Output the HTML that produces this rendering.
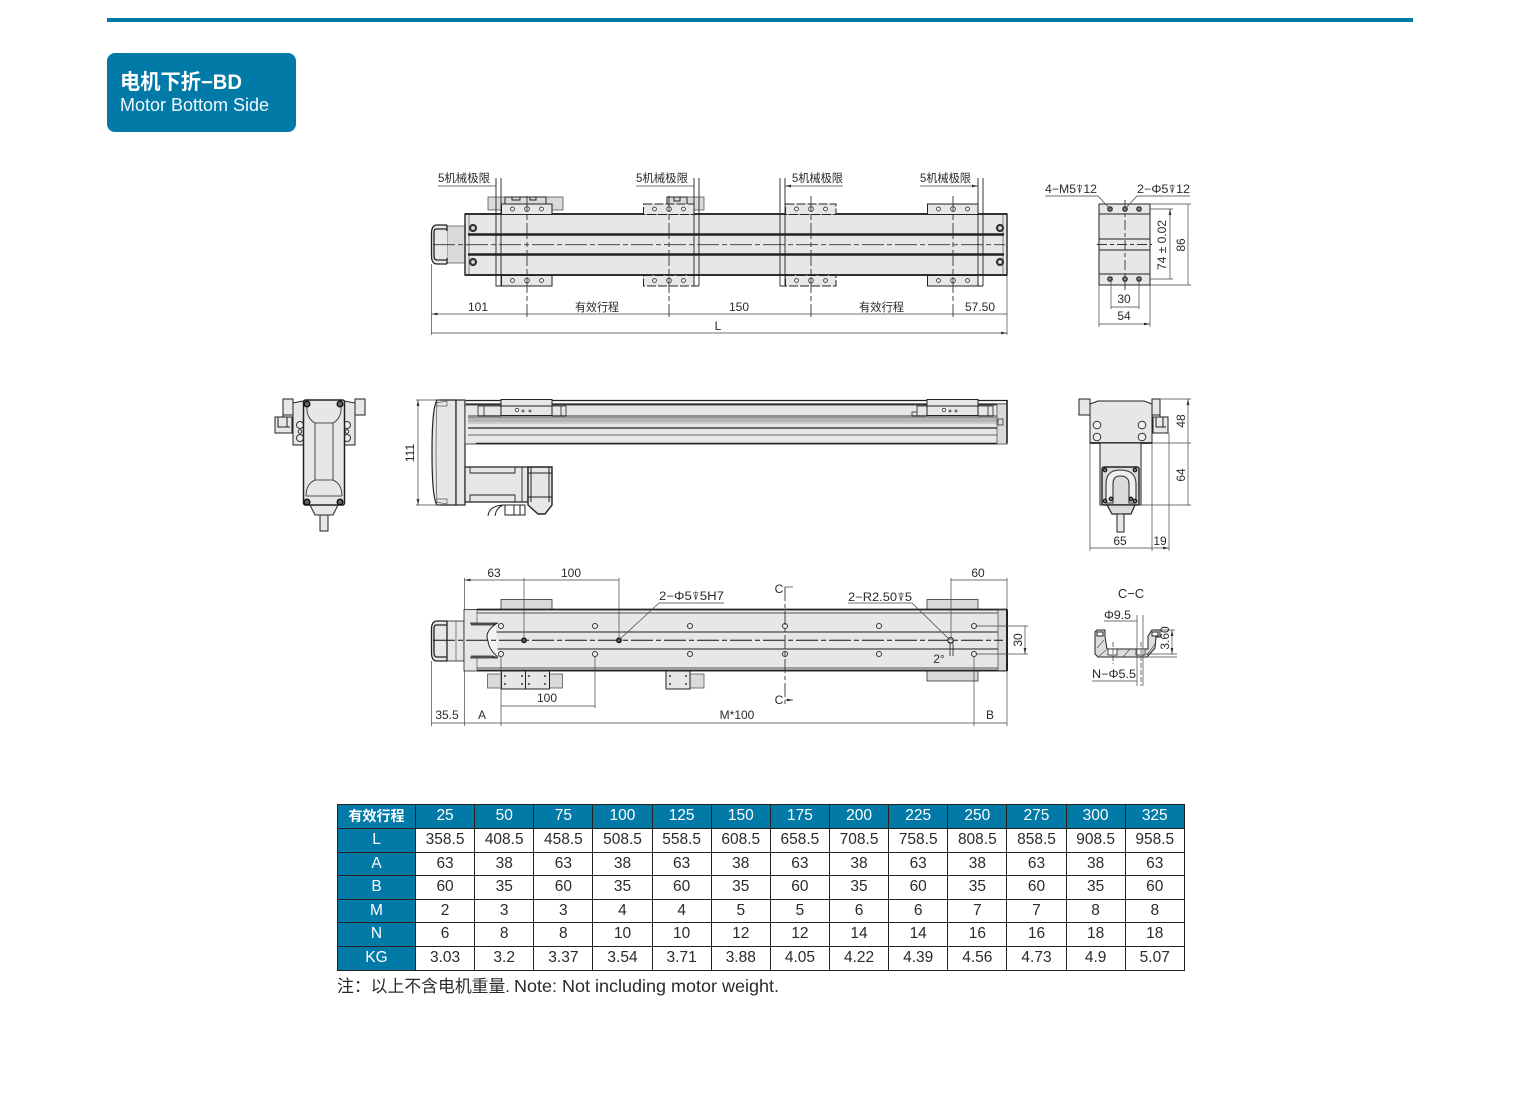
<!DOCTYPE html>
<html lang="zh"><head><meta charset="utf-8"><title>电机下折-BD Motor Bottom Side</title>
<style>
html,body{margin:0;padding:0;background:#fff;width:1514px;height:1118px;overflow:hidden}
svg{position:absolute;left:0;top:0}
text{font-family:"Liberation Sans","Noto Sans CJK SC",sans-serif;fill:#2a2a2a}
.t{font-size:12px;text-anchor:middle}
.s{font-size:11.5px}
.f{fill:#e6e7e8;stroke:#222;stroke-width:1}
.g{fill:#d9dadb;stroke:#555;stroke-width:.8}
.l{fill:none;stroke:#222;stroke-width:1}
.h{fill:none;stroke:#555;stroke-width:.7}
.b{fill:none;stroke:#222;stroke-width:2.6}
.d{fill:none;stroke:#444;stroke-width:.7;marker-start:url(#a);marker-end:url(#a)}
.e{fill:none;stroke:#444;stroke-width:.7}
.r{fill:none;stroke:#444;stroke-width:.7;marker-end:url(#a)}
.c{fill:none;stroke:#333;stroke-width:.9;stroke-dasharray:22 3 5 3}
.o{fill:#eee;stroke:#333;stroke-width:1}
table{position:absolute;left:337px;top:804px;width:847px;border-collapse:collapse;table-layout:fixed;font:15.5px "Liberation Sans","Noto Sans CJK SC",sans-serif;color:#2a2a2a}
td{border:1px solid #222;padding:0 0 1px 0;text-align:center;vertical-align:middle;line-height:18px}
td.k{background:#027aa8;color:#fff}
.badge{position:absolute;left:107px;top:53px;width:189px;height:79px;border-radius:8px;background:#027aa8}
.bar{position:absolute;left:107px;top:18px;width:1306px;height:4px;background:#027aa8}
</style></head><body>
<div class="bar"></div><div class="badge"></div>
<svg width="1514" height="1118" viewBox="0 0 1514 1118" xmlns="http://www.w3.org/2000/svg">
<defs>
<marker id="a" markerUnits="userSpaceOnUse" markerWidth="7" markerHeight="4" refX="6" refY="2" orient="auto-start-reverse"><path d="M0,.6 L6,2 L0,3.400z" fill="#333"/></marker>
<g id="pl"><rect x="0" y="0" width="50.500" height="10.500" class="f"/><circle cx="11" cy="5" r="1.900" fill="#fff" stroke="#333" stroke-width=".9"/><circle cx="25.500" cy="5" r="2.300" fill="#fff" stroke="#333" stroke-width=".9"/><circle cx="40" cy="5" r="1.900" fill="#fff" stroke="#333" stroke-width=".9"/></g>
<g id="pd"><rect x="0" y="0" width="50.500" height="10.500" class="f" style="stroke-dasharray:9 2"/><circle cx="11" cy="5" r="1.900" fill="#fff" stroke="#333" stroke-width=".9"/><circle cx="25.500" cy="5" r="2.300" fill="#fff" stroke="#333" stroke-width=".9"/><circle cx="40" cy="5" r="1.900" fill="#fff" stroke="#333" stroke-width=".9"/></g>
</defs>

<text x="120" y="89" font-size="21" font-weight="700" style="fill:#fff" textLength="122" lengthAdjust="spacingAndGlyphs">电机下折−BD</text>
<text x="120" y="111" font-size="18" style="fill:#f2f8fb" textLength="149" lengthAdjust="spacingAndGlyphs">Motor Bottom Side</text>

<!-- TOP VIEW -->
<rect x="488" y="197" width="75" height="13" class="g"/>
<rect x="667" y="197" width="37" height="13" class="g"/>
<path d="M505,204V197H546V204M512,197V200H520V197M530,197V200H536V197" class="l"/>
<path d="M667,204V197H687V204M674,197V201H680V197" class="l"/>
<path d="M447,226H465V263H447z" class="g"/>
<path d="M447,225H437Q432,225 431.500,232V257Q432,264 437,264H447M436,229Q434,229 434,233V256Q434,260 437,260H447M447,229H436M447,225V231M447,258V264" class="f" style="stroke-width:1.300"/>
<rect x="465" y="214" width="542" height="61" class="f" style="stroke-width:1.400"/>
<path d="M465,214H1007M465,275H1007" class="l" style="stroke-width:1.700"/>
<path d="M469,214V275M1003,214V275" class="h"/>
<path d="M468,234.500H1004M468,254.500H1004" class="b"/>
<path d="M433,244.700H1005" class="c"/>
<use href="#pl" x="501.500" y="204"/><use href="#pd" x="643.500" y="204"/><use href="#pd" x="785.500" y="204"/><use href="#pl" x="927.500" y="204"/>
<use href="#pl" x="501.500" y="275.500"/><use href="#pd" x="643.500" y="275.500"/><use href="#pd" x="785.500" y="275.500"/><use href="#pl" x="927.500" y="275.500"/>
<path d="M496,178V286H501M501,178V286M694,178V286H699M699,178V286M780,178V286H785M785,178V286M978,178V286H983M983,178V286" class="l" style="stroke-width:.9"/>
<path d="M527,196V317M669,196V317M811,196V317M953,196V317" fill="none" stroke="#333" stroke-width=".9" stroke-dasharray="16 3 5 3"/>
<g class="o" style="stroke-width:2.200;fill:#ddd"><circle cx="473" cy="228" r="3"/><circle cx="473" cy="262" r="3"/><circle cx="1000" cy="228" r="3"/><circle cx="1000" cy="262" r="3"/></g>
<text class="s" x="438" y="182" textLength="52" lengthAdjust="spacingAndGlyphs">5机械极限</text>
<text class="s" x="636" y="182" textLength="52" lengthAdjust="spacingAndGlyphs">5机械极限</text>
<text class="s" x="792" y="182" textLength="51" lengthAdjust="spacingAndGlyphs">5机械极限</text>
<text class="s" x="920" y="182" textLength="51" lengthAdjust="spacingAndGlyphs">5机械极限</text>
<path d="M438,186H496M636,186H694M920,186H978" class="r"/>
<path d="M843,186H785" class="r"/>
<path d="M431.500,264V335M1007,275V335" class="e"/>
<path d="M431.500,314H527M527,314H669M669,314H811M811,314H953M953,314H1007M431.500,333H1007" class="d"/>
<text class="t" x="478" y="311">101</text><text class="s" x="575" y="311" textLength="44" lengthAdjust="spacingAndGlyphs">有效行程</text><text class="t" x="739" y="311">150</text><text class="s" x="859" y="311" textLength="45" lengthAdjust="spacingAndGlyphs">有效行程</text><text class="t" x="980" y="311">57.50</text><text class="t" x="718" y="330">L</text>

<!-- TOP RIGHT END VIEW -->
<rect x="1099" y="204" width="51" height="81" class="f"/>
<path d="M1099,214H1150M1099,274H1150M1099,239H1150M1099,250H1150" class="l"/>
<path d="M1097,244.500H1152M1125,200V290" class="c" style="stroke-dasharray:10 3 4 3"/>
<g fill="#888" stroke="#222" stroke-width="1.200"><circle cx="1110" cy="209" r="2.200"/><circle cx="1125" cy="209" r="2.200"/><circle cx="1139" cy="209" r="2.200"/><circle cx="1110" cy="279" r="2.200"/><circle cx="1125" cy="279" r="2.200"/><circle cx="1139" cy="279" r="2.200"/></g>
<path d="M1045,196H1098L1110,209M1190,196H1137L1125,209" class="e"/>
<text class="s" x="1045" y="193" textLength="52" lengthAdjust="spacingAndGlyphs">4−M5⍒12</text>
<text class="s" x="1137" y="193" textLength="53" lengthAdjust="spacingAndGlyphs">2−Φ5⍒12</text>
<path d="M1150,209H1173M1150,279H1173M1150,204H1191M1150,285H1191M1111,279V309M1139,279V309M1099,285V327M1150,285V327" class="e"/>
<path d="M1170,209V279M1188,204V285M1111,307H1139M1099,324H1150" class="d"/>
<text class="t" x="1124" y="303">30</text><text class="t" x="1124" y="320">54</text>
<text class="t" transform="translate(1166,245) rotate(-90)">74 ± 0.02</text>
<text class="t" transform="translate(1185,245) rotate(-90)">86</text>

<!-- LEFT END VIEW -->
<rect x="283" y="399" width="10" height="16" class="f"/><rect x="355" y="399" width="10" height="16" class="f"/>
<path d="M275,417H292V433H275z" class="f"/><path d="M278,417V427H290M283,410V417M287,417V427" class="l"/>
<path d="M293,403L303,401H344L355,403V445H293z" class="f"/>
<circle cx="300" cy="425" r="3.500" class="o"/><circle cx="300" cy="438" r="3.500" class="o"/><circle cx="300" cy="431.500" r="1.800" class="o"/>
<circle cx="347" cy="425" r="3.500" class="o"/><circle cx="347" cy="438" r="3.500" class="o"/><circle cx="347" cy="431.500" r="1.800" class="o"/>
<path d="M310,505L315,515H333L338,505z" class="f"/>
<rect x="320" y="515" width="8" height="16" class="f"/>
<rect x="303.500" y="400" width="41" height="105" rx="2" class="f" style="stroke-width:1.500"/>
<path d="M307,412Q309,420 315,423V480Q306,484 306,496M341,412Q339,420 333,423V480Q342,484 342,496M315,423H333M315,480H333M307,402L307,412M341,402V412M306,496H342" class="l" style="stroke-width:.8"/>
<g fill="#666" stroke="#111" stroke-width="1.400"><circle cx="307" cy="404" r="2.800"/><circle cx="340" cy="404" r="2.800"/><circle cx="307" cy="502" r="2.800"/><circle cx="340" cy="502" r="2.800"/></g>

<!-- SIDE VIEW -->
<path d="M437,400H456V505H437Q432,498 432,452Q432,408 437,400z" class="f" style="stroke-width:1.200"/>
<path d="M436,403L447,401V406H436M436,502L447,504V499H436M437,402Q435,450 437,503" class="h"/>
<rect x="456" y="400" width="9" height="105" class="f" style="stroke-width:1.200"/>
<rect x="465" y="405" width="533" height="39" class="f" style="stroke-width:.8"/>
<path d="M466,400.500H1007M466,404H1007" class="b" style="stroke-width:1.300"/>
<rect x="468" y="415" width="530" height="3" fill="#8f9193"/>
<rect x="468" y="418" width="530" height="4" fill="#b3b5b7"/>
<rect x="468" y="422" width="530" height="2" fill="#ccc"/>
<path d="M468,428H998" class="l" style="stroke-width:1.400;stroke:#444"/>
<path d="M468,435H998" class="l" style="stroke:#666"/>
<path d="M476,443.500H1007" class="l" style="stroke-width:1.600"/>
<rect x="501" y="399.500" width="51" height="16" class="f"/><rect x="927" y="399.500" width="51" height="16" class="f"/>
<path d="M501,406H552M927,406H978" class="l"/>
<path d="M552,406H566V416H552M561,406V416M978,406H993V416H978M988,406V416M927,406H917V416H927M917,412H912V416H917M501,406H478V416H501M484,406V416" class="l" style="stroke-width:.8"/>
<g fill="#fff" stroke="#333" stroke-width=".8"><circle cx="944" cy="410" r="1.700"/><circle cx="950" cy="411" r="1"/><circle cx="956" cy="411" r="1"/><circle cx="517" cy="410" r="1.700"/><circle cx="523" cy="411" r="1"/><circle cx="530" cy="411" r="1"/></g>
<rect x="997" y="404" width="10" height="40" class="g"/>
<path d="M1007,400V443.500" class="l" style="stroke-width:1.600"/><rect x="998" y="419" width="5" height="6" class="l" style="stroke-width:.7"/>
<path d="M465,467H528V502H465z" class="f" style="stroke-width:1.200"/>
<path d="M470,467V473H515V467M470,502V495H515V502M522,467V502" class="l" style="stroke-width:.9"/>
<path d="M528,467H552V505L545,514H538L528,505z" class="f" style="stroke-width:1.400"/>
<path d="M528,473H552M528,497H552M531,467V502M549,467V502" class="l"/>
<path d="M488,516Q489,506 503,505H525V515H505V505M503,505Q496,508 495,516M514,505V515M520,505V515" class="l" style="stroke-width:1"/>
<path d="M416,400H440M416,505H440" class="e"/>
<path d="M418,400V505" class="d"/>
<text class="t" transform="translate(414,453) rotate(-90)">111</text>

<!-- RIGHT END VIEW -->
<rect x="1079" y="399" width="11" height="16" class="f"/><rect x="1152" y="399" width="8" height="16" class="f"/>
<path d="M1153,417H1168V433H1153z" class="f"/><path d="M1156,417V427H1166M1160,410V417M1163,417V427" class="l"/>
<path d="M1090,404L1098,401H1144L1152,404V443H1090z" class="f"/>
<path d="M1090,443H1152" class="l" style="stroke-width:1.800"/>
<circle cx="1097" cy="425" r="3.800" class="o"/><circle cx="1097" cy="437" r="3.800" class="o"/><circle cx="1142" cy="425" r="3.800" class="o"/><circle cx="1142" cy="437" r="3.800" class="o"/>
<path d="M1100,443H1141V505H1100z" class="f"/>
<rect x="1102" y="467" width="37" height="38" rx="2" class="g" style="stroke:#222;stroke-width:1.400"/>
<path d="M1106,503V484Q1106,470 1120,470Q1136,470 1136,484V503H1129V484Q1129,476 1120,476Q1113,476 1113,484V503z" fill="#eee" stroke="#333" stroke-width="1.100"/>
<g fill="#777" stroke="#111" stroke-width="1.100"><circle cx="1105" cy="470" r="1.800"/><circle cx="1135" cy="470" r="1.800"/><circle cx="1105" cy="501" r="1.800"/><circle cx="1135" cy="501" r="1.800"/><circle cx="1111" cy="499" r="1.800"/><circle cx="1131" cy="499" r="1.800"/></g>
<path d="M1107,505L1112,514H1131L1135,505z" class="g" style="stroke:#222;stroke-width:1.200"/>
<rect x="1117" y="514" width="7" height="18" class="f"/>
<path d="M1160,399H1191M1152,443H1191M1141,505H1191M1090,443V551M1152,443V551M1169,433V551" class="e"/>
<path d="M1188,399V443M1188,443V505M1090,548H1152M1152,548H1169" class="d"/>
<text class="t" transform="translate(1185,421) rotate(-90)">48</text>
<text class="t" transform="translate(1185,475) rotate(-90)">64</text>
<text class="t" x="1120" y="545">65</text><text class="t" x="1160" y="545">19</text>

<!-- BOTTOM VIEW -->
<rect x="501" y="599.500" width="51" height="10" class="g" style="stroke:#333"/>
<rect x="927" y="599.500" width="51" height="10" class="g" style="stroke:#333"/>
<rect x="927" y="671" width="51" height="10" class="g" style="stroke:#333"/>
<rect x="487.500" y="674" width="75" height="14" class="g"/>
<rect x="666" y="674" width="38" height="14" class="g"/>
<rect x="501.500" y="671" width="24" height="18" class="f"/><rect x="525.500" y="671" width="24" height="18" class="f"/><rect x="666" y="671" width="24" height="18" class="f"/>
<g fill="#555"><circle cx="505" cy="676" r="1.100"/><circle cx="522" cy="676" r="1.100"/><circle cx="505" cy="684" r="1.100"/><circle cx="522" cy="684" r="1.100"/><circle cx="529" cy="676" r="1.100"/><circle cx="545" cy="676" r="1.100"/><circle cx="529" cy="684" r="1.100"/><circle cx="545" cy="684" r="1.100"/><circle cx="670" cy="676" r="1.100"/><circle cx="686" cy="676" r="1.100"/><circle cx="670" cy="684" r="1.100"/><circle cx="686" cy="684" r="1.100"/></g>
<rect x="447" y="621" width="17" height="40" class="f" style="stroke-width:.8"/>
<path d="M447,621H437Q432,621 431.500,628V654Q432,661 437,661H447V621M436,625Q434,625 434,629V653Q434,657 437,657H447M447,625H436" class="f" style="stroke-width:1.300"/>
<path d="M456,621V661" class="h"/>
<rect x="464" y="609.500" width="543" height="61.500" class="f" style="stroke-width:.8"/>
<path d="M477,609.500H1007M477,670.500H1007" class="l" style="stroke-width:1.700"/>
<path d="M477,613H998M477,668H998" class="l" style="stroke:#555"/>
<path d="M492,632H998M492,649H998" class="l" style="stroke-width:1.100"/>
<path d="M477,610V623M477,658V670" class="h"/>
<rect x="998" y="610" width="9" height="60.500" class="g"/><path d="M1007,609.500V671" class="l" style="stroke-width:2"/>
<path d="M470,623H498L493,625H471M470,658H498L493,656H471" fill="#666" stroke="#222" stroke-width=".8"/>
<path d="M496,624Q484,632 488,641Q489,650 498,657" fill="#f4f4f4" stroke="#222" stroke-width="1"/>
<path d="M433,640.300H1003" class="c" style="stroke:#111;stroke-width:1"/>
<g fill="#eee" stroke="#333" stroke-width="1">
<circle cx="501" cy="626" r="2.500"/><circle cx="595" cy="626" r="2.500"/><circle cx="690" cy="626" r="2.500"/><circle cx="785" cy="626" r="2.500"/><circle cx="879" cy="626" r="2.500"/><circle cx="974" cy="626" r="2.500"/>
<circle cx="501" cy="654" r="2.500"/><circle cx="595" cy="654" r="2.500"/><circle cx="690" cy="654" r="2.500"/><circle cx="785" cy="654" r="2.500"/><circle cx="879" cy="654" r="2.500"/><circle cx="974" cy="654" r="2.500"/></g>
<g fill="#666" stroke="#111" stroke-width="1.400"><circle cx="524" cy="640.300" r="2.200"/><circle cx="619" cy="640.300" r="2.200"/></g>
<circle cx="950.500" cy="640.300" r="2.800" fill="#ddd" stroke="#111" stroke-width="1"/>
<path d="M464.500,578V609M524,578V640M619,578V640M951,578V640M1007,578V609M431.500,661V726M464.500,671V726M501,657V726M595,657V708M974,657V726M1007,671V726M977,626H1028M977,654H1028" class="e"/>
<path d="M950,642V656M953,642V656" class="l" style="stroke-width:.8"/>
<path d="M464.500,580H524M524,580H619M951,580H1007M501,706H595M431.500,723H464.500M464.500,723H501M501,723H974M974,723H1007M1025,626V654" class="d"/>
<path d="M785,587V705" fill="none" stroke="#333" stroke-width=".9" stroke-dasharray="14 3 4 3"/>
<path d="M785,587H793M785,700H793" class="r"/>
<path d="M659,603H724M659,603L619,640M848,603H912L950,640" class="e"/>
<text class="t" x="494" y="577">63</text><text class="t" x="571" y="577">100</text><text class="t" x="978" y="577">60</text>
<text class="s" x="659" y="600" textLength="65" lengthAdjust="spacingAndGlyphs">2−Φ5⍒5H7</text>
<text class="s" x="848" y="601" textLength="64" lengthAdjust="spacingAndGlyphs">2−R2.50⍒5</text>
<text class="t" x="779" y="593">C</text><text class="t" x="779" y="704">C</text>
<text class="t" x="939" y="663">2°</text>
<text class="t" x="547" y="702">100</text>
<text class="t" x="447" y="719">35.5</text><text class="t" x="482" y="719">A</text><text class="t" x="737" y="719">M*100</text><text class="t" x="990" y="719">B</text>
<text class="t" transform="translate(1022,640) rotate(-90)">30</text>

<!-- C-C -->
<text x="1131" y="598" font-size="13" text-anchor="middle">C−C</text>
<path d="M1095,632L1097,630H1105V637L1107,649H1148V636L1152,630H1160V637H1156L1155,648L1147,657H1098L1095,654z" fill="#dcddde" stroke="#222" stroke-width="1"/>
<path d="M1097,648L1104,640M1099,656L1106,650M1123,657L1130,649M1147,655L1155,644" class="h"/>
<path d="M1097,632H1103V636H1097zM1152,632H1158V636H1152z" fill="#fff" stroke="#222" stroke-width="1"/>
<rect x="1108" y="649" width="9" height="6" fill="#fff" stroke="#222" stroke-width=".8"/><rect x="1136" y="649" width="9" height="6" fill="#fff" stroke="#222" stroke-width=".8"/>
<path d="M1113,642V664M1141,642V686" fill="none" stroke="#333" stroke-width=".7" stroke-dasharray="5 2"/>
<path d="M1137,615V686M1143,615V686M1146,654H1177M1146,657H1177M1160,630H1175" class="e"/>
<path d="M1104,621H1137M1092,681H1137" class="e"/>
<path d="M1172,630V654" class="d"/>
<text class="s" x="1104" y="619" textLength="27" lengthAdjust="spacingAndGlyphs">Φ9.5</text>
<text class="s" x="1092" y="678" textLength="44" lengthAdjust="spacingAndGlyphs">N−Φ5.5</text>
<text class="t" transform="translate(1169,638) rotate(-90)">3.60</text>

<text x="337" y="992" font-size="17" textLength="173" lengthAdjust="spacingAndGlyphs">注：以上不含电机重量.</text>
<text x="514" y="992" font-size="17.500" textLength="265" lengthAdjust="spacingAndGlyphs">Note: Not including motor weight.</text>
</svg>
<table>
<colgroup><col style="width:78px"><col span="13" style="width:59.150px"></colgroup>
<tr style="height:24px"><td class="k" style="font-weight:700;font-size:14px">有效行程</td><td class="k">25</td><td class="k">50</td><td class="k">75</td><td class="k">100</td><td class="k">125</td><td class="k">150</td><td class="k">175</td><td class="k">200</td><td class="k">225</td><td class="k">250</td><td class="k">275</td><td class="k">300</td><td class="k">325</td></tr>
<tr style="height:24px"><td class="k">L</td><td>358.5</td><td>408.5</td><td>458.5</td><td>508.5</td><td>558.5</td><td>608.5</td><td>658.5</td><td>708.5</td><td>758.5</td><td>808.5</td><td>858.5</td><td>908.5</td><td>958.5</td></tr>
<tr style="height:23px"><td class="k">A</td><td>63</td><td>38</td><td>63</td><td>38</td><td>63</td><td>38</td><td>63</td><td>38</td><td>63</td><td>38</td><td>63</td><td>38</td><td>63</td></tr>
<tr style="height:24px"><td class="k">B</td><td>60</td><td>35</td><td>60</td><td>35</td><td>60</td><td>35</td><td>60</td><td>35</td><td>60</td><td>35</td><td>60</td><td>35</td><td>60</td></tr>
<tr style="height:23px"><td class="k">M</td><td>2</td><td>3</td><td>3</td><td>4</td><td>4</td><td>5</td><td>5</td><td>6</td><td>6</td><td>7</td><td>7</td><td>8</td><td>8</td></tr>
<tr style="height:24px"><td class="k">N</td><td>6</td><td>8</td><td>8</td><td>10</td><td>10</td><td>12</td><td>12</td><td>14</td><td>14</td><td>16</td><td>16</td><td>18</td><td>18</td></tr>
<tr style="height:24px"><td class="k">KG</td><td>3.03</td><td>3.2</td><td>3.37</td><td>3.54</td><td>3.71</td><td>3.88</td><td>4.05</td><td>4.22</td><td>4.39</td><td>4.56</td><td>4.73</td><td>4.9</td><td>5.07</td></tr>
</table>
</body></html>
